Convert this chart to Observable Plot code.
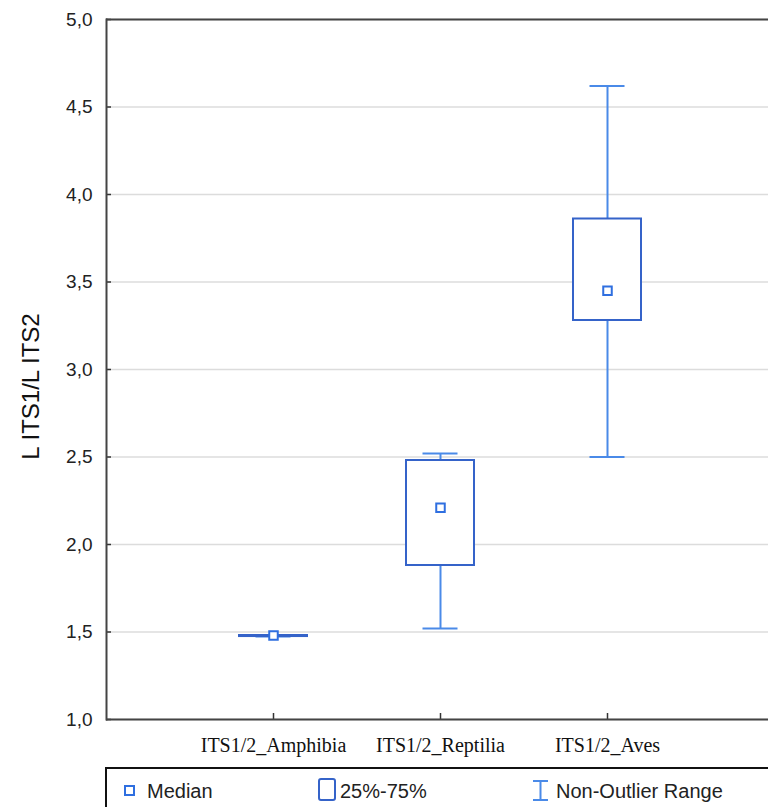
<!DOCTYPE html>
<html>
<head>
<meta charset="utf-8">
<script src="https://cdn.jsdelivr.net/npm/d3@7"></script>
<script src="https://cdn.jsdelivr.net/npm/@observablehq/plot@0.6"></script>
<style>
  html, body { margin: 0; padding: 0; background: #fff; overflow: hidden; }
  #wrap { position: relative; width: 768px; height: 807px; overflow: hidden; }
  #legend { position: absolute; left: 105px; top: 767px; width: 700px; height: 60px;
            border: 2px solid #111; box-sizing: border-box; font-family: "Liberation Sans", Arial, sans-serif;
            font-size: 20px; color: #222; }
  .lt { position: absolute; top: 10px; line-height: 24px; white-space: nowrap; }
  .ic { position: absolute; }
</style>
</head>
<body>
<div id="wrap">
  <div id="chart"></div>
  <div id="legend"></div>
</div>
<script>
// ---- data ----
const categories = ["ITS1/2_Amphibia", "ITS1/2_Reptilia", "ITS1/2_Aves"];
const medians = [1.48, 2.21, 3.45];
const q1 = [1.474, 1.88, 3.28];
const q3 = [1.480, 2.48, 3.86];
const whiskerLow = [1.474, 1.52, 2.50];
const whiskerHigh = [1.480, 2.52, 4.62];
const yTicks = [1.0, 1.5, 2.0, 2.5, 3.0, 3.5, 4.0, 4.5, 5.0];
const yLabel = ["L ITS1/L ITS2"];
const legendLabels = ["Median", "25%-75%", "Non-Outlier Range"];

const table = categories.map((c, i) => ({
  cat: c, med: medians[i], q1: q1[i], q3: q3[i], lo: whiskerLow[i], hi: whiskerHigh[i]
}));

const boxBlue = "#3563c9";
const whiskBlue = "#4a8ae8";
const medBlue = "#2f6fe0";
const fmt = d => d.toFixed(1).replace(".", ",");
const yMin = yTicks[0], yMax = yTicks[yTicks.length - 1];

const chart = Plot.plot({
  width: 768,
  height: 760,
  marginLeft: 106,
  marginRight: -6,
  marginTop: 19,
  marginBottom: 41,
  style: { background: "transparent" },
  x: { type: "band", domain: categories, paddingInner: 0.593, paddingOuter: 0.7965, align: 0.5 },
  y: { domain: [yMin, yMax] },
  marks: [
    Plot.gridY(yTicks, { stroke: "#dcdcdc", strokeOpacity: 1, strokeWidth: 1.5 }),
    Plot.axisY(yTicks, { tickSize: 0, tickPadding: 14, tickFormat: fmt, fontSize: 19,
                         fontFamily: "Liberation Sans, Arial, sans-serif", fill: "#222", label: null }),
    Plot.axisY(yTicks, { tickSize: -5, tickFormat: () => "", stroke: "#333", strokeWidth: 1.5, label: null }),
    Plot.axisX({ tickSize: 0, tickPadding: 18, fontSize: 20,
                 fontFamily: "Liberation Serif, 'Times New Roman', serif", fill: "#111", label: null }),
    Plot.axisX({ tickSize: -6, tickFormat: () => "", stroke: "#333", strokeWidth: 1.5, label: null }),
    Plot.text(yLabel, { frameAnchor: "left", rotate: -90, dx: -75, dy: 17, textAnchor: "middle",
                        fontSize: 24, fontFamily: "Liberation Sans, Arial, sans-serif", fill: "#111" }),
    Plot.frame({ anchor: "left", stroke: "#444", strokeWidth: 2 }),
    Plot.ruleY([yMin, yMax], { stroke: "#444", strokeWidth: 2 }),
    Plot.ruleX(table, { x: "cat", y1: "lo", y2: "hi", stroke: whiskBlue, strokeWidth: 2 }),
    Plot.tickY(table, { x: "cat", y: "hi", insetLeft: 16.5, insetRight: 16.5, stroke: whiskBlue, strokeWidth: 2 }),
    Plot.tickY(table, { x: "cat", y: "lo", insetLeft: 16.5, insetRight: 16.5, stroke: whiskBlue, strokeWidth: 2 }),
    Plot.barY(table, { x: "cat", y1: "q1", y2: "q3", fill: "white", stroke: boxBlue, strokeWidth: 2 }),
    Plot.dot(table, { x: "cat", y: "med", symbol: "square", r: 4.8, fill: "white", stroke: medBlue, strokeWidth: 2 })
  ]
});
document.getElementById("chart").appendChild(chart);

// ---- legend (HTML below the SVG) ----
const legend = document.getElementById("legend");
const lx = 105; // legend left offset in page coords
function add(html) { legend.insertAdjacentHTML("beforeend", html); }
add(`<svg class="ic" style="left:${121 - lx}px;top:15px" width="14" height="14"><rect x="2" y="2" width="9" height="9" fill="none" stroke="${medBlue}" stroke-width="2"/></svg>`);
add(`<div class="lt" style="left:${145 - lx}px">${legendLabels[0]}</div>`);
add(`<svg class="ic" style="left:${315 - lx}px;top:8px" width="22" height="26"><rect x="2" y="2" width="16" height="21" rx="2" fill="none" stroke="${boxBlue}" stroke-width="2"/></svg>`);
add(`<div class="lt" style="left:${338 - lx}px">${legendLabels[1]}</div>`);
add(`<svg class="ic" style="left:${529 - lx}px;top:10px" width="20" height="24"><path d="M2,2H17M9.5,2V21M2,21H17" fill="none" stroke="${whiskBlue}" stroke-width="2"/></svg>`);
add(`<div class="lt" style="left:${554 - lx}px">${legendLabels[2]}</div>`);
</script>
</body>
</html>
